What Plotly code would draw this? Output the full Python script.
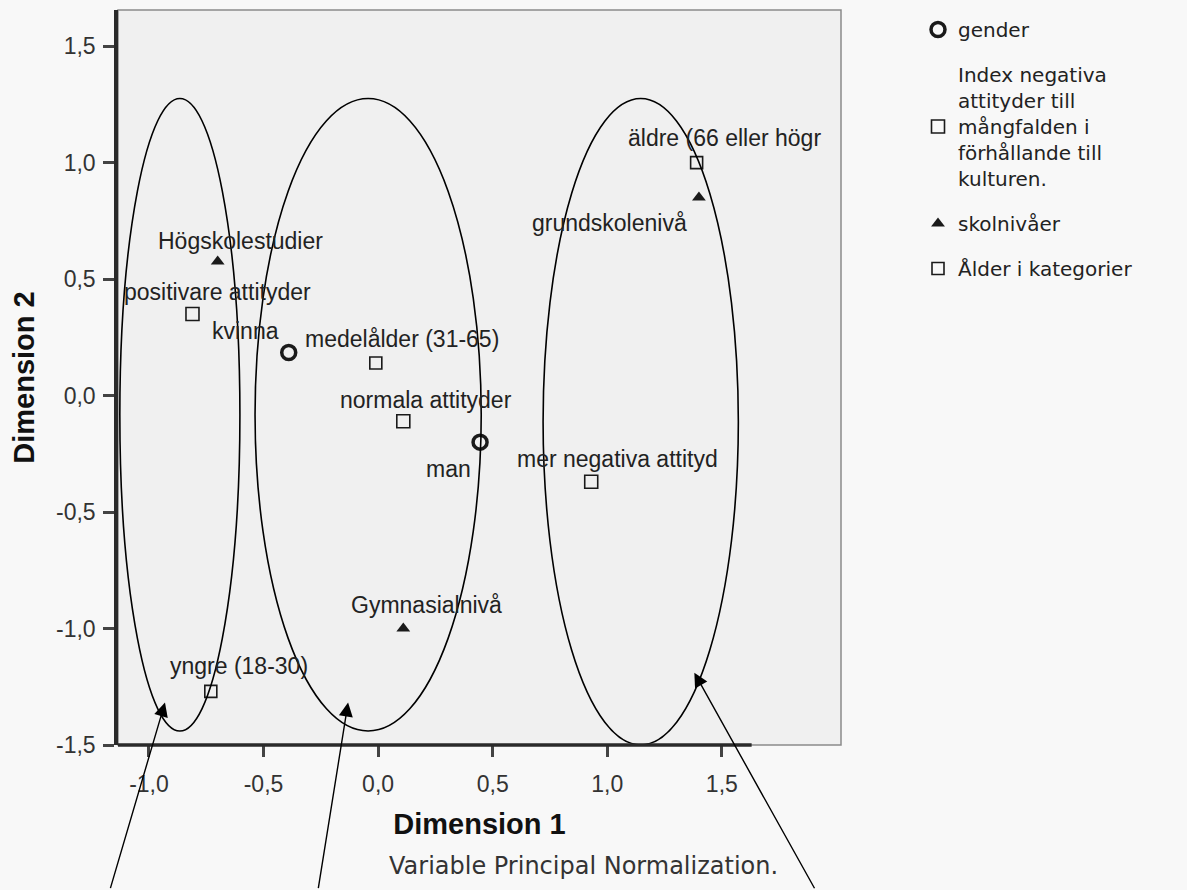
import plotly.graph_objects as go

# ---- data (Dimension 1, Dimension 2) ----
gender_labels = ["kvinna", "man"]
gender_x = [-0.39, 0.445]
gender_y = [0.185, -0.20]

index_labels = ["positivare attityder", "normala attityder", "mer negativa attityd"]
index_x = [-0.81, 0.11, 0.93]
index_y = [0.35, -0.11, -0.37]

skola_labels = ["Högskolestudier", "Gymnasialnivå", "grundskolenivå"]
skola_x = [-0.70, 0.11, 1.40]
skola_y = [0.575, -1.00, 0.85]

alder_labels = ["yngre (18-30)", "medelålder (31-65)", "äldre (66 eller högr"]
alder_x = [-0.73, -0.01, 1.39]
alder_y = [-1.27, 0.14, 1.00]

x_tickvals = [-1.0, -0.5, 0.0, 0.5, 1.0, 1.5]
x_ticktext = ["-1,0", "-0,5", "0,0", "0,5", "1,0", "1,5"]
y_tickvals = [-1.5, -1.0, -0.5, 0.0, 0.5, 1.0, 1.5]
y_ticktext = ["-1,5", "-1,0", "-0,5", "0,0", "0,5", "1,0", "1,5"]

# hand-drawn groupings (x0, x1, y0, y1) and arrow heads
ellipses = [(-1.127, -0.603, -1.44, 1.275), (-0.537, 0.45, -1.44, 1.275), (0.72, 1.572, -1.50, 1.275)]
arrow_heads = [(-0.93, -1.318), (-0.131, -1.318), (1.38, -1.19)]
arrow_tails = [(-55, 187), (-30, 187), (121, 217)]  # pixel offsets

# label offsets (pixels) relative to each point
label_shift = {
    "kvinna": (-43, 21), "man": (-32, -27),
    "positivare attityder": (25, 22), "normala attityder": (23, 21), "mer negativa attityd": (26, 23),
    "Högskolestudier": (23, 21), "Gymnasialnivå": (23, 24), "grundskolenivå": (-89, -25),
    "yngre (18-30)": (28, 25), "medelålder (31-65)": (26, 24), "äldre (66 eller högr": (28, 25),
}

SANS = "Liberation Sans, Arial, sans-serif"
INK = "#1a1a1a"

fig = go.Figure()

fig.add_trace(go.Scatter(
    x=gender_x, y=gender_y, mode="markers", name="gender", legendgroup="g1",
    marker=dict(symbol="circle-open", size=14, color=INK, line=dict(width=3.5, color=INK)),
))
fig.add_trace(go.Scatter(
    x=index_x, y=index_y, mode="markers", legendgroup="g2",
    name="Index negativa<br>attityder till<br>mångfalden i<br>förhållande till<br>kulturen.",
    marker=dict(symbol="square-open", size=13, color=INK, line=dict(width=1.6, color=INK)),
))
fig.add_trace(go.Scatter(
    x=skola_x, y=skola_y, mode="markers", name="skolnivåer", legendgroup="g3",
    marker=dict(symbol="triangle-up", size=12, color=INK),
))
fig.add_trace(go.Scatter(
    x=alder_x, y=alder_y, mode="markers", name="Ålder i kategorier", legendgroup="g4",
    marker=dict(symbol="square-open", size=12, color=INK, line=dict(width=1.6, color=INK)),
))

# point labels
for labels, xs, ys in [(gender_labels, gender_x, gender_y), (index_labels, index_x, index_y),
                       (skola_labels, skola_x, skola_y), (alder_labels, alder_x, alder_y)]:
    for lab, xv, yv in zip(labels, xs, ys):
        dx, dy = label_shift[lab]
        fig.add_annotation(x=xv, y=yv, text=lab, showarrow=False, xshift=dx, yshift=dy,
                           font=dict(family=SANS, size=23, color="#222"))

# ellipses
for x0, x1, y0, y1 in ellipses:
    fig.add_shape(type="circle", xref="x", yref="y", x0=x0, x1=x1, y0=y0, y1=y1,
                  line=dict(color="black", width=1.6))

# arrows from below
for (hx, hy), (ax, ay) in zip(arrow_heads, arrow_tails):
    fig.add_annotation(x=hx, y=hy, ax=ax, ay=ay, text="", showarrow=True,
                       arrowhead=2, arrowsize=2, arrowwidth=1.4, arrowcolor="black")

# frame + partial bottom axis line
fig.add_shape(type="rect", xref="paper", yref="paper", x0=0, x1=1, y0=0, y1=1,
              line=dict(color="#8a8a8a", width=1.5), layer="below")
fig.add_shape(type="line", xref="x", yref="paper", x0=-1.135, x1=1.63, y0=0, y1=0,
              line=dict(color="#2a2a2a", width=3.5))

fig.add_annotation(xref="paper", yref="paper", x=0.9156, y=-0.187, xanchor="right",
                   text="Variable Principal Normalization.", showarrow=False,
                   font=dict(family="DejaVu Sans, sans-serif", size=24, color="#333"))

fig.update_xaxes(
    range=[-1.135, 2.02], showgrid=False, zeroline=False, showline=False,
    tickvals=x_tickvals, ticktext=x_ticktext, ticks="outside", ticklen=11, tickwidth=2.5,
    tickcolor="#444", ticklabelstandoff=7, tickfont=dict(family=SANS, size=23, color="#333"),
    title=dict(text="<b>Dimension 1</b>", standoff=18, font=dict(family=SANS, size=29, color="#111")),
)
fig.update_yaxes(
    range=[-1.5, 1.655], showgrid=False, zeroline=False, showline=True, linewidth=3.5,
    linecolor="#2a2a2a", tickvals=y_tickvals, ticktext=y_ticktext, ticks="outside", ticklen=11,
    tickwidth=2.5, tickcolor="#444", ticklabelstandoff=3,
    tickfont=dict(family=SANS, size=23, color="#333"),
    title=dict(text="<b>Dimension 2</b>", standoff=14, font=dict(family=SANS, size=29, color="#111")),
)

fig.update_layout(
    width=1187, height=890,
    margin=dict(l=118, r=346, t=10, b=145),
    paper_bgcolor="#f8f8f8", plot_bgcolor="#f0f0f0",
    separators=",.",
    legend=dict(x=1.1065, y=1.0, xanchor="left", yanchor="top", valign="middle",
                bgcolor="rgba(0,0,0,0)", tracegroupgap=16,
                font=dict(family="DejaVu Sans, sans-serif", size=20, color="#222")),
)

fig.write_html("out.html", config={"displayModeBar": False},
               post_script="document.body.style.margin='0';")
